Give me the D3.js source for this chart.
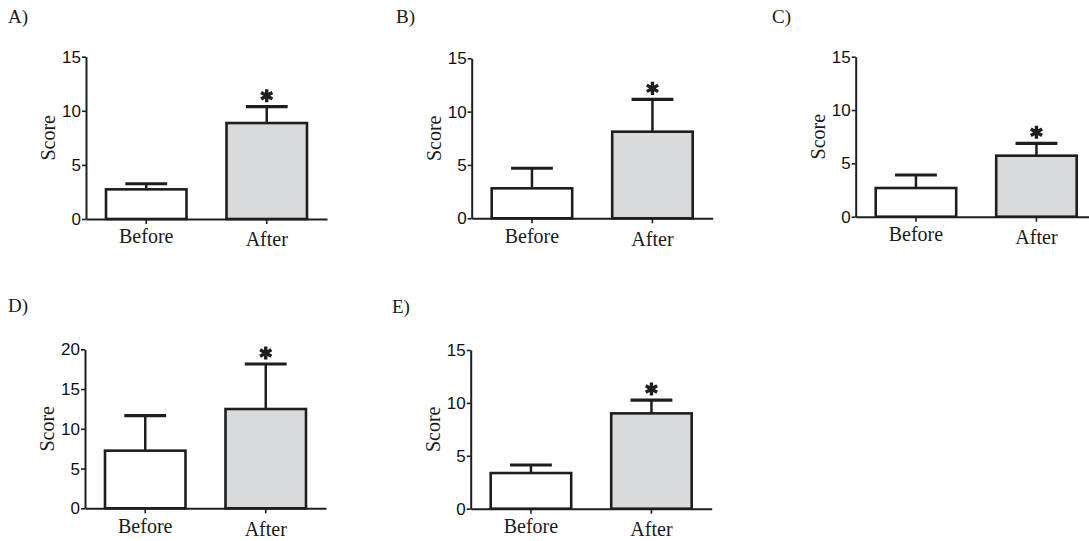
<!DOCTYPE html>
<html lang="en">
  <head>
    <meta charset="utf-8">
    <title>Score before / after</title>
    <script src="https://cdn.jsdelivr.net/npm/d3@7"></script>
    <style>
      body { margin: 0; background: #fff; }
      .tick text { font-family: "Liberation Sans", Arial, sans-serif; font-size: 17px; fill: #111; }
      .lbl { font-family: "Liberation Serif", "Times New Roman", serif; fill: #1a1a1a; }
    </style>
  </head>
  <body>
    <script>
    // values
    var panels = ["A)", "B)", "C)", "D)", "E)"];
    var categories = ["Before", "After"];
    var meanBefore = [2.74, 2.81, 2.69, 7.25, 3.37];
    var meanAfter  = [8.87, 8.12, 5.72, 12.49, 9.01];
    var sdBefore   = [0.52, 1.88, 1.22, 4.40, 0.76];
    var sdAfter    = [1.51, 3.03, 1.16, 5.66, 1.26];
    var yMax       = [15, 15, 15, 20, 15];
    var yTicks     = [[0, 5, 10, 15], [0, 5, 10, 15], [0, 5, 10, 15], [0, 5, 10, 15, 20], [0, 5, 10, 15]];
    var yTitle = "Score";

    // where each panel sits (axis origin, top of axis, panel letter)
    var layout = [
      {x: 86,    top: 56.7,  bottom: 219,   lx: 8,   ly: 23},
      {x: 471.7, top: 58.3,  bottom: 218.3, lx: 396, ly: 23},
      {x: 855.7, top: 56.7,  bottom: 216.7, lx: 772, ly: 23},
      {x: 85,    top: 349.3, bottom: 508.3, lx: 8,   ly: 312},
      {x: 470.7, top: 350,   bottom: 508.7, lx: 392, ly: 313}
    ];
    var plotW = 241;
    var ink = "#1e1e1e";
    var fills = ["#ffffff", "#d9dadc"];
    var labelDy = [0, 3];

    var svg = d3.select("body").append("svg")
                .attr("width", 1089)
                .attr("height", 541);

    panels.forEach(function(name, p) {
      var L = layout[p];
      var h = L.bottom - L.top;

      svg.append("text").attr("class", "lbl")
         .attr("x", L.lx).attr("y", L.ly)
         .style("font-size", "19px")
         .text(name);

      var g = svg.append("g").attr("transform", "translate(" + L.x + "," + L.top + ")");

      var x = d3.scaleBand().domain(categories).range([0, plotW])
                .paddingInner(0.332).paddingOuter(0.166);
      var y = d3.scaleLinear().domain([0, yMax[p]]).range([h, 0]);

      var rows = categories.map(function(c, i) {
        return {cat: c, mean: i == 0 ? meanBefore[p] : meanAfter[p], sd: i == 0 ? sdBefore[p] : sdAfter[p], i: i};
      });

      // error bars first so the bar outline covers the stem base
      var cap = x.bandwidth() * 0.52;
      rows.forEach(function(d) {
        var cx = x(d.cat) + x.bandwidth() / 2;
        g.append("line")
         .attr("x1", cx).attr("x2", cx)
         .attr("y1", y(d.mean)).attr("y2", y(d.mean + d.sd))
         .attr("stroke", ink).attr("stroke-width", 2.5);
        g.append("line")
         .attr("x1", cx - cap / 2).attr("x2", cx + cap / 2)
         .attr("y1", y(d.mean + d.sd)).attr("y2", y(d.mean + d.sd))
         .attr("stroke", ink).attr("stroke-width", 3.2);
      });

      g.selectAll("rect.bar")
       .data(rows)
       .enter().append("rect").attr("class", "bar")
       .attr("x", function(d) { return x(d.cat); })
       .attr("y", function(d) { return y(d.mean); })
       .attr("width", x.bandwidth())
       .attr("height", function(d) { return h - y(d.mean); })
       .attr("fill", function(d) { return fills[d.i]; })
       .attr("stroke", ink)
       .attr("stroke-width", 2.6);

      // significance star above the "After" bar
      var after = rows[1];
      g.append("path")
       .attr("d", d3.symbol().type(d3.symbolAsterisk).size(120)())
       .attr("transform", "translate(" + (x(after.cat) + x.bandwidth() / 2) + "," + (y(after.mean + after.sd) - 11) + ")")
       .attr("stroke", ink).attr("stroke-width", 3.4).attr("fill", "none");

      var ya = g.append("g")
                .call(d3.axisLeft(y).tickValues(yTicks[p]).tickSize(4).tickSizeOuter(0).tickPadding(1));
      var xa = g.append("g").attr("transform", "translate(0," + h + ")")
                .call(d3.axisBottom(x).tickSize(5).tickSizeOuter(0).tickFormat(""));
      [ya, xa].forEach(function(a) {
        a.select(".domain").attr("stroke", ink).attr("stroke-width", 2);
        a.selectAll(".tick line").attr("stroke", ink).attr("stroke-width", 1.6);
      });

      g.selectAll("text.cat")
       .data(rows)
       .enter().append("text").attr("class", "lbl cat")
       .attr("x", function(d) { return x(d.cat) + x.bandwidth() / 2; })
       .attr("y", function(d) { return h + 24.5 + labelDy[d.i]; })
       .attr("text-anchor", "middle")
       .style("font-size", "20px")
       .text(function(d) { return d.cat; });

      g.append("text").attr("class", "lbl")
       .attr("transform", "translate(-31," + (h / 2) + ") rotate(-90)")
       .attr("text-anchor", "middle")
       .style("font-size", "20px")
       .text(yTitle);
    });
    </script>
  </body>
</html>
